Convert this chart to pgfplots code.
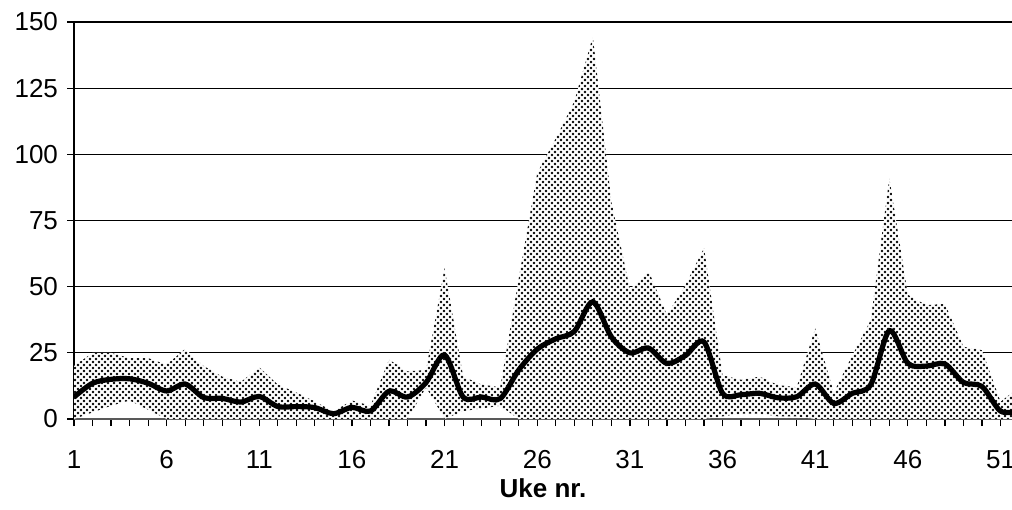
\documentclass[border=0pt]{standalone}
\usepackage{fontspec}
\setmainfont{Liberation Sans}
\usepackage{pgfplots}
\usepackage{pgfplotstable}
\pgfplotsset{compat=1.18}
\usepgfplotslibrary{fillbetween}
\usetikzlibrary{patterns}

% staggered dot screen like the one in the source chart
\pgfdeclarepatternformonly{screendots}{\pgfqpoint{-1pt}{-1pt}}{\pgfqpoint{4pt}{4pt}}{\pgfqpoint{3pt}{3pt}}{
  \pgfpathcircle{\pgfqpoint{0pt}{0pt}}{0.65pt}
  \pgfpathcircle{\pgfqpoint{1.5pt}{1.5pt}}{0.65pt}
  \pgfusepath{fill}
}

% week, lowest, highest and mean count
\pgfplotstableread{
week lo hi mean
1 0 20 8.3
2 2.5 25 13.5
3 5 25 15
4 7 23 15.2
5 3.5 23 13.5
6 0 20.5 10.6
7 0 26.5 13.2
8 0 20 8.1
9 0 16 7.8
10 0 14 6.4
11 0 19.5 8.5
12 0 13 4.7
13 0 10 4.7
14 0 6.6 4.3
15 0 2.8 2
16 0 7 4.4
17 0 5 3
18 0 22.4 10.5
19 0 18 8.3
20 12 18.5 13.8
21 0 57 24.2
22 3 16 8.3
23 4 13 8.3
24 5 12 7.7
25 0 53 18.5
26 0 93 26.4
27 0 106 30.3
28 0 120 33.1
29 0 144.5 44.3
30 0 82 31
31 0 49 25
32 0 56 26.8
33 0 39.3 21
34 0 50.7 24
35 0 64.6 29.1
36 1 16.5 9.7
37 2 14.8 9.2
38 2 16 9.7
39 1 12.8 8
40 1 12 8.4
41 0 34.2 13.2
42 0 10 5.9
43 0 24 9.7
44 0 37.4 13
45 0 91 33.4
46 0 46.9 21
47 0 43 20
48 0 43.5 20.8
49 0 27.3 13.8
50 0 26 12.3
51 0 6.5 3
52 0 12 3
}\uke

\begin{document}
\begin{tikzpicture}
\begin{axis}[
    scale only axis,
    width=469pt, height=198.5pt,
    xmin=1, xmax=51.62,
    ymin=0, ymax=150,
    axis x line*=bottom,
    axis y line*=left,
    x axis line style={black!65, line width=0.8pt},
    y axis line style={black, line width=0.6pt},
    xtick={1,6,...,51},
    minor xtick={1,...,52},
    ytick={0,25,...,150},
    tick align=outside,
    major tick length=3.5pt,
    minor tick length=3.5pt,
    every tick/.style={black, line width=0.6pt},
    ymajorgrids,
    grid style={black, line width=0.6pt},
    /pgf/number format/assume math mode=true,
    ticklabel style={font=\fontsize{13}{15}\selectfont},
    xticklabel style={text height=9.5pt, text depth=0pt, yshift=-8pt},
    yticklabel style={xshift=-1pt},
    xlabel={Uke nr.},
    xlabel style={font=\fontsize{13}{15}\selectfont\bfseries, yshift=1.5pt},
]
\addplot[draw=none, name path=hi] table[x=week, y=hi] {\uke};
\addplot[draw=none, name path=lo] table[x=week, y=lo] {\uke};
\addplot[fill=white, draw=none] fill between[of=hi and lo];
\addplot[pattern=screendots, pattern color=black, draw=none] fill between[of=hi and lo];
\addplot[black, line width=2.6pt, smooth, tension=0.5] table[x=week, y=mean] {\uke};
\end{axis}
\pgfresetboundingbox
\path ([xshift=-37pt, yshift=-45pt]current axis.south west) rectangle ([yshift=11pt]current axis.north east);
\end{tikzpicture}
\end{document}
